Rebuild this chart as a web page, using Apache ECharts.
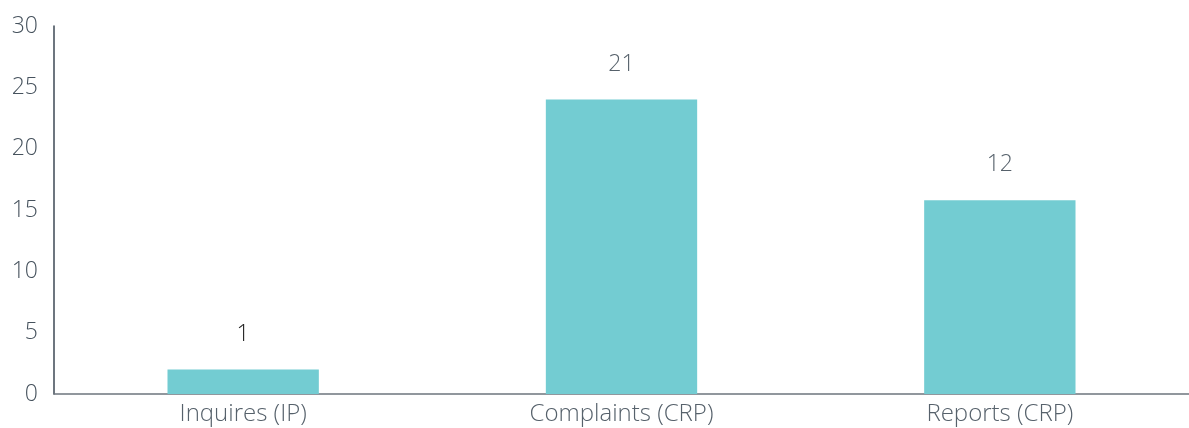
<!DOCTYPE html>
<html><head><meta charset="utf-8">
<script src="https://cdn.jsdelivr.net/npm/echarts@6/dist/echarts.min.js"></script>
<style>html,body{margin:0;padding:0;background:#fff}#c{width:1189px;height:428px}</style>
</head><body><div id="c"></div>
<script>
const categories = ['Inquires (IP)', 'Complaints (CRP)', 'Reports (CRP)'];
const barValues = [2, 24, 15.8];
const labelTexts = ['1', '21', '12'];
const labelColors = ['#222222', '#56616b', '#56616b'];
const yTicks = [0, 5, 10, 15, 20, 25, 30];

const FONT = '"Open Sans", sans-serif';
const chart = echarts.init(document.getElementById('c'), null, {renderer: 'canvas'});
chart.setOption({
  animation: false,
  grid: {left: 54, right: 0, top: 26, bottom: 34, containLabel: false},
  xAxis: {
    type: 'category', data: categories,
    axisLine: {lineStyle: {color: '#6d767d', width: 1.5}},
    axisTick: {show: false},
    axisLabel: {color: '#56616b', fontSize: 24, fontFamily: FONT, fontWeight: 300, margin: 8}
  },
  yAxis: {
    type: 'value', min: yTicks[0], max: yTicks[yTicks.length - 1], interval: 5,
    axisLine: {show: true, lineStyle: {color: '#3d4955', width: 1.5}},
    axisTick: {show: false},
    splitLine: {show: false},
    axisLabel: {color: '#46525d', fontSize: 23, fontFamily: FONT, fontWeight: 300, margin: 16}
  },
  series: [{
    type: 'bar',
    data: barValues.map((v, i) => ({value: v, label: {color: labelColors[i]}})),
    barWidth: '40%',
    itemStyle: {color: '#73ccd2'},
    label: {
      show: true, position: 'top', distance: 24,
      fontSize: 23, fontFamily: FONT, fontWeight: 300,
      formatter: p => labelTexts[p.dataIndex]
    }
  }]
});
</script></body></html>
